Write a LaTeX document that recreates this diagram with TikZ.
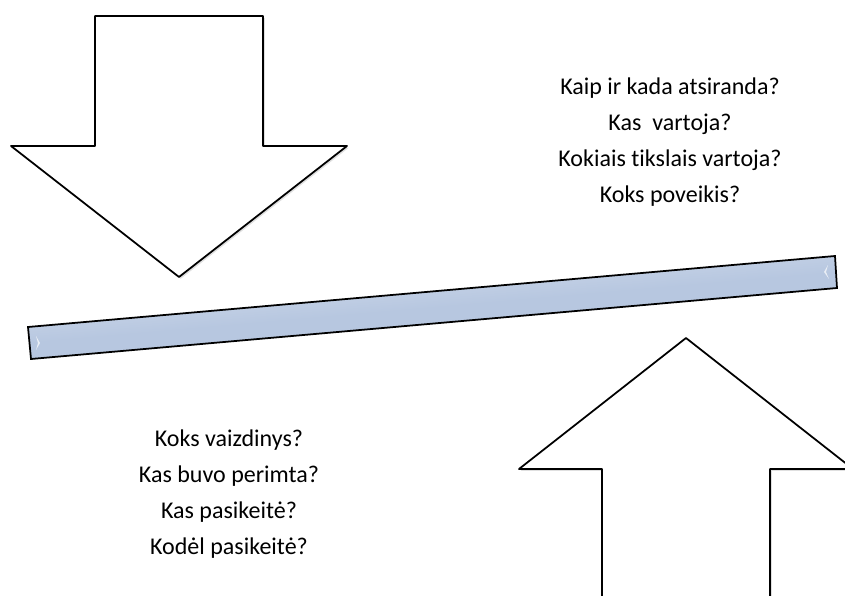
\documentclass[tikz,border=0pt]{standalone}
\usepackage{fontspec}
\setmainfont[Ligatures={NoCommon}]{Carlito}
\usetikzlibrary{shadows}
\definecolor{barblue}{RGB}{183,199,224}

\begin{document}
\begin{tikzpicture}[x=0.3mm, y=-0.3mm,
  blockarrow/.style={draw=black, line width=1.5pt, fill=white, line join=round,
    drop shadow={opacity=0.25, shadow xshift=1.5pt, shadow yshift=-1.5pt}},
  question/.style={align=center, font=\fontsize{20.5}{30.5}\selectfont}]
\useasboundingbox (0,0) rectangle (845,596);
\clip (0,0) rectangle (845,596);

% Down arrow
\draw[blockarrow] (95,16) -- (263,16) -- (263,146) -- (347,146)
  -- (179,277) -- (11,146) -- (95,146) -- cycle;

% Up arrow
\draw[blockarrow] (602,620) -- (602,469) -- (519,469) -- (686,338)
  -- (853,469) -- (770,469) -- (770,620);

% Bar
\draw[line width=1.5pt, top color=barblue!45!white, bottom color=barblue, shading angle=5,
  middle color=barblue] (28,327) -- (835,256) -- (837,288) -- (31,359) -- cycle;
\fill[white, opacity=0.7] (36,336) -- (40,343) -- (36,350) -- (38,343) -- cycle;
\fill[white, opacity=0.7] (828,265) -- (824,272) -- (829,279) -- (826,272) -- cycle;

% Questions
\node[question] (upper) at (670,142) {Kaip ir kada atsiranda?\\Kas~ vartoja?\\Kokiais tikslais vartoja?\\Koks poveikis?};
\node[question] (lower) at (229,494) {Koks vaizdinys?\\Kas buvo perimta?\\Kas pasikeitė?\\Kodėl pasikeitė?};
\end{tikzpicture}
\end{document}
